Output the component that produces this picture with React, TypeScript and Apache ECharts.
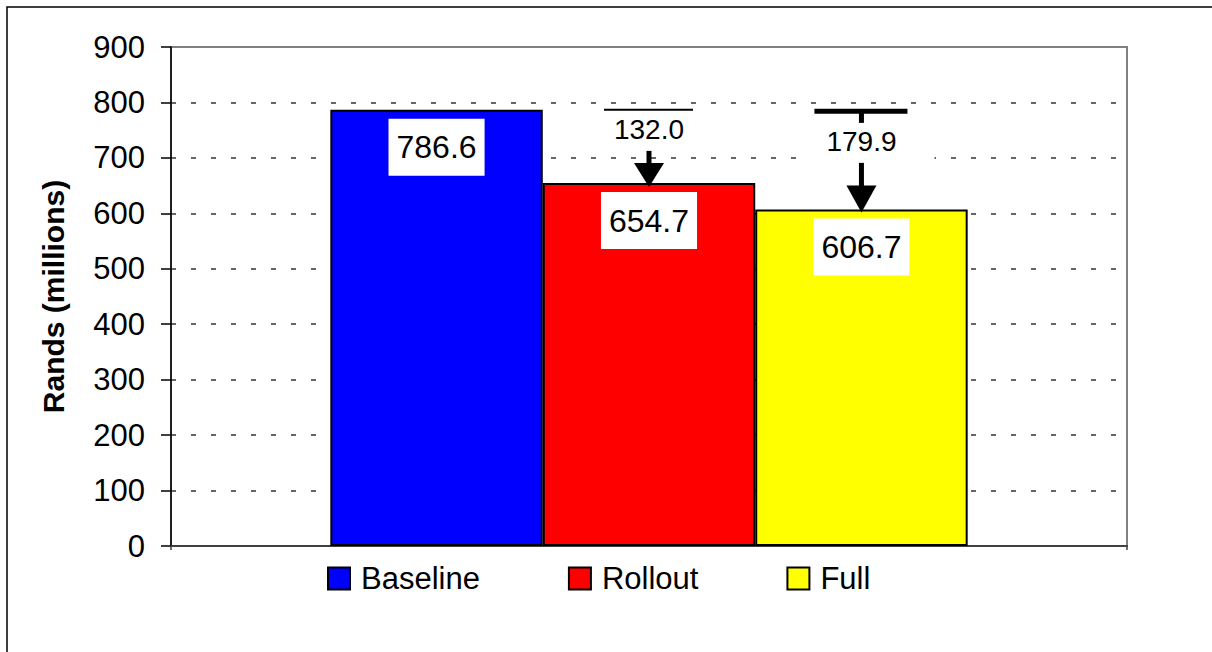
import React, { useEffect, useRef } from 'react';
import * as echarts from 'echarts';

// ---- data ----
const categories = [''];
const seriesNames = ['Baseline', 'Rollout', 'Full'];
const seriesValues = [786.6, 654.7, 606.7];
const seriesColors = ['#0000FF', '#FF0000', '#FFFF00'];
const yMin = 0;
const yMax = 900;
const yInterval = 100;
const reductionTargets = [1, 2]; // index of series the arrow points to
const reductionFromSeries = [0, 0]; // arrow starts at this series' value
const reductionLabels = ['132.0', '179.9'];

// ---- style ----
const FONT = 'Liberation Sans, Arial, Helvetica, sans-serif';
const CATEGORY_GAP = 1 / 3;
const arrowStyles = [
  { topWidth: 2, topY: 0, stub: 0, labelY: 19.5, shaftStart: 41, headH: 20, tip: 4, halfTop: [45, 44], box: null as null | number[] },
  { topWidth: 5, topY: 1.5, stub: 13, labelY: 32, shaftStart: 53, headH: 24, tip: 3, halfTop: [47, 46], box: [-53, 8, 126, 42] },
];

export default function App() {
  const ref = useRef<HTMLDivElement>(null);
  useEffect(() => {
    if (!ref.current) return;
    const chart = echarts.init(ref.current, null, { renderer: 'svg' });

    const arrowData = reductionTargets.map((t, k) => [0, seriesValues[reductionFromSeries[k]], seriesValues[t], t, k]);

    const option: any = {
      animation: false,
      backgroundColor: '#fff',
      textStyle: { fontFamily: FONT },
      graphic: [
        {
          type: 'rect',
          x: 7,
          y: 7,
          silent: true,
          shape: { x: 0, y: 0, width: 1230, height: 670 },
          style: { fill: 'none', stroke: '#000', lineWidth: 1.5 },
        },
      ],
      grid: {
        left: 171,
        right: 85,
        top: 47,
        bottom: 106,
        show: true,
        borderColor: '#808080',
        borderWidth: 2,
        backgroundColor: 'transparent',
      },
      legend: {
        data: seriesNames,
        left: 327,
        top: 563,
        padding: 0,
        itemWidth: 22,
        itemHeight: 22,
        itemGap: 88,
        icon: 'rect',
        itemStyle: { borderColor: '#000', borderWidth: 2 },
        textStyle: { fontSize: 31, color: '#000', fontFamily: FONT, padding: [0, 0, 0, 6] },
      },
      xAxis: {
        type: 'category',
        data: categories,
        axisLine: { show: true, lineStyle: { color: '#404040', width: 2 } },
        axisTick: { show: true, length: 4, lineStyle: { color: '#404040', width: 1.5 } },
        axisLabel: { show: false },
        splitLine: { show: false },
      },
      yAxis: {
        type: 'value',
        min: yMin,
        max: yMax,
        interval: yInterval,
        name: 'Rands (millions)',
        nameLocation: 'middle',
        nameGap: 103,
        nameTextStyle: { fontSize: 30, fontWeight: 'bold', color: '#000', fontFamily: FONT },
        axisLine: { show: true, lineStyle: { color: '#000', width: 1.5 } },
        axisTick: { show: true, length: 10, lineStyle: { color: '#000', width: 1.5 } },
        axisLabel: { fontSize: 31, color: '#000', margin: 26, fontFamily: FONT },
        splitLine: {
          show: true,
          showMinLine: false,
          showMaxLine: false,
          lineStyle: { color: '#666666', type: [5, 15], width: 1.8 },
        },
      },
      series: [
        ...seriesNames.map((name, i) => ({
          name,
          type: 'bar',
          data: [seriesValues[i]],
          barGap: '0%',
          barCategoryGap: '33.33%',
          itemStyle: { color: seriesColors[i], borderColor: '#000', borderWidth: 2 },
          label: {
            show: true,
            position: 'insideTop',
            distance: 9,
            formatter: (p: any) => Number(p.value).toFixed(1),
            backgroundColor: '#fff',
            padding: [11, 8],
            fontSize: 32,
            lineHeight: 35,
            color: '#000',
            fontFamily: FONT,
          },
        })),
        {
          name: 'reduction',
          type: 'custom',
          z: 5,
          silent: true,
          encode: { x: 0, y: [1, 2] },
          data: arrowData,
          renderItem: (params: any, api: any) => {
            const from = api.value(1);
            const to = api.value(2);
            const sIdx = api.value(3);
            const k = api.value(4);
            const st = arrowStyles[k];
            const top = api.coord([0, from]);
            const bot = api.coord([0, to]);
            const band = api.size([1, 0])[0];
            const groupW = band * (1 - CATEGORY_GAP);
            const barW = groupW / seriesNames.length;
            const cx = top[0] - groupW / 2 + barW * (sIdx + 0.5);
            const yT = top[1];
            const yB = bot[1];
            const children: any[] = [];
            if (st.box) {
              children.push({
                type: 'rect',
                shape: { x: cx + st.box[0], y: yT + st.box[1], width: st.box[2], height: st.box[3] },
                style: { fill: '#fff' },
              });
            }
            children.push({
              type: 'rect',
              shape: { x: cx - st.halfTop[0], y: yT + st.topY - st.topWidth / 2, width: st.halfTop[0] + st.halfTop[1], height: st.topWidth },
              style: { fill: '#000' },
            });
            if (st.stub > 0) {
              children.push({
                type: 'rect',
                shape: { x: cx - 2.5, y: yT + st.topY, width: 5, height: st.stub - st.topY },
                style: { fill: '#000' },
              });
            }
            children.push({
              type: 'text',
              x: cx,
              y: yT + st.labelY,
              style: {
                text: reductionLabels[k],
                fontSize: 28,
                fontFamily: FONT,
                fill: '#000',
                align: 'center',
                verticalAlign: 'middle',
              },
            });
            const headTop = yB - st.headH;
            children.push({
              type: 'rect',
              shape: { x: cx - 2.5, y: yT + st.shaftStart, width: 5, height: headTop - (yT + st.shaftStart) + 1 },
              style: { fill: '#000' },
            });
            children.push({
              type: 'polygon',
              shape: { points: [[cx - 15, headTop], [cx + 15, headTop], [cx, yB + st.tip]] },
              style: { fill: '#000' },
            });
            return { type: 'group', children };
          },
        },
      ],
    };
    chart.setOption(option);
    return () => chart.dispose();
  }, []);
  return (
    <div
      ref={ref}
      style={{ position: 'fixed', left: 0, top: 0, width: 1212, height: 652, background: '#fff' }}
    />
  );
}
